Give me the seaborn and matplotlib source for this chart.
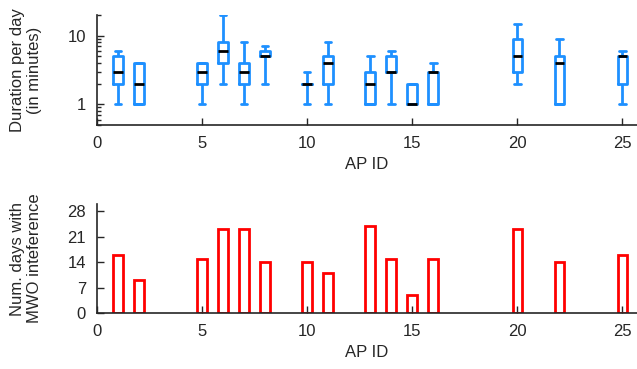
import numpy as np
import pandas as pd
import matplotlib
matplotlib.use('Agg')
import matplotlib.pyplot as plt
import matplotlib.ticker as mticker
import seaborn as sns

# AP ids shown on both panels
ap_ids = [1, 2, 5, 6, 7, 8, 10, 11, 13, 14, 15, 16, 20, 22, 25]

# duration per day (minutes): min, q1, median, q3, max per AP
dur_min = [1, 1, 1, 2, 1, 2, 1, 1, 1, 1, 1, 1, 2, 1, 1]
dur_q1 = [2, 1, 2, 4, 2, 5, 2, 2, 1, 3, 1, 1, 3, 1, 2]
dur_med = [3, 2, 3, 6, 3, 5, 2, 4, 2, 3, 1, 3, 5, 4, 5]
dur_q3 = [5, 4, 4, 8, 4, 6, 2, 5, 3, 5, 2, 3, 9, 5, 5]
dur_max = [6, 4, 4, 20, 8, 7, 3, 8, 5, 6, 2, 4, 15, 9, 6]

# number of days with MWO interference
num_days = [16, 9, 15, 23, 23, 14, 14, 11, 24, 15, 5, 15, 23, 14, 16]

sns.set_style('ticks')
plt.rcParams['font.family'] = ['Liberation Sans', 'DejaVu Sans']
plt.rcParams['font.size'] = 12
plt.rcParams['xtick.direction'] = 'in'
plt.rcParams['ytick.direction'] = 'in'

rows = []
for i, ap in enumerate(ap_ids):
    for v in (dur_min[i], dur_q1[i], dur_med[i], dur_q3[i], dur_max[i]):
        rows.append({'ap': ap, 'minutes': v})
dur_df = pd.DataFrame(rows)
days_df = pd.DataFrame({'ap': ap_ids, 'days': num_days})

fig = plt.figure(figsize=(6.37, 3.69), dpi=100)
ax1 = fig.add_axes([97 / 637, 1 - 125 / 369, 1 - 97 / 637, 110 / 369])
ax2 = fig.add_axes([97 / 637, 1 - 313 / 369, 1 - 97 / 637, 109 / 369])

blue = '#1e90ff'
sns.boxplot(data=dur_df, x='ap', y='minutes', native_scale=True, fill=False,
            width=0.45, whis=(0, 100), color=blue, linecolor=blue, linewidth=2,
            boxprops={'color': blue}, whiskerprops={'color': blue},
            capprops={'color': blue},
            medianprops={'color': 'black', 'linewidth': 2}, ax=ax1)

# widen the whisker caps a bit (gnuplot style)
for ln in ax1.lines:
    xd = np.asarray(ln.get_xdata(), dtype=float)
    yd = np.asarray(ln.get_ydata(), dtype=float)
    if len(xd) == 2 and yd[0] == yd[1] and ln.get_color() != 'black':
        c = xd.mean()
        ln.set_xdata([c - 0.16, c + 0.16])

ax1.set_yscale('log')
ax1.set_ylim(0.5, 20)
ax1.yaxis.set_major_locator(mticker.FixedLocator([1, 10]))
ax1.yaxis.set_major_formatter(mticker.FuncFormatter(lambda v, p: f'{v:g}'))
ax1.yaxis.set_minor_locator(mticker.LogLocator(subs=np.arange(2, 10)))
ax1.yaxis.set_minor_formatter(mticker.NullFormatter())
ax1.set_ylabel('Duration per day\n(in minutes)', labelpad=18)

sns.barplot(data=days_df, x='ap', y='days', native_scale=True, fill=False,
            width=0.45, color='red', linewidth=2, ax=ax2)
ax2.set_ylim(0, 30)
ax2.set_yticks([0, 7, 14, 21, 28])
ax2.set_ylabel('Num. days with\nMWO inteference', labelpad=18)

for ax in (ax1, ax2):
    ax.set_xlim(0, 25.7)
    ax.set_xticks([0, 5, 10, 15, 20, 25])
    ax.set_xlabel('AP ID', labelpad=4)
    ax.tick_params(axis='both', which='major', length=5, width=1, pad=8)
    ax.tick_params(axis='y', which='minor', length=3, width=1)
    sns.despine(ax=ax)
    for s in ('left', 'bottom'):
        ax.spines[s].set_linewidth(1.2)

fig.savefig('out.png', dpi=100)
